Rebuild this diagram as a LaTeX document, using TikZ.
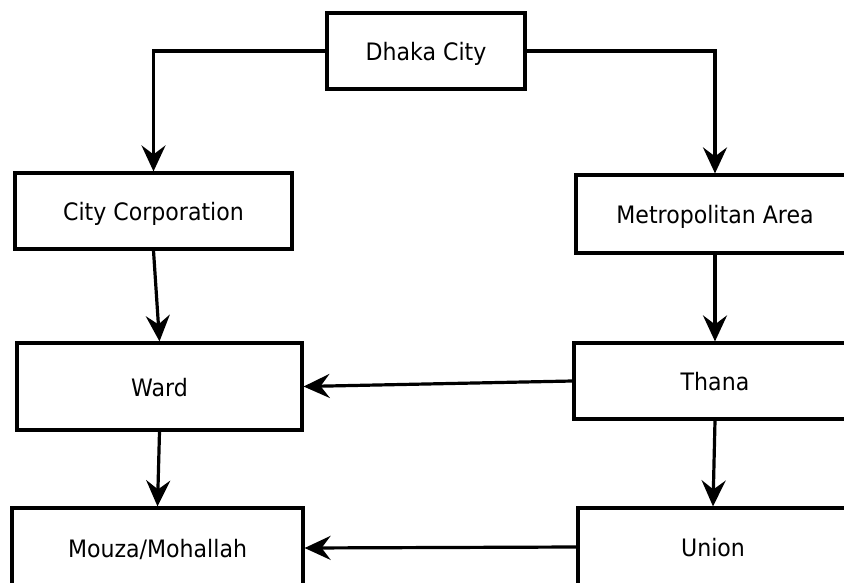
\documentclass[tikz,border=0pt]{standalone}
\usepackage{fontspec}
\setmainfont[FakeStretch=0.92]{DejaVu Sans}
\usetikzlibrary{arrows.meta}
\begin{document}
\begin{tikzpicture}[x=1pt,y=-1pt,
  box/.style={draw=black, line width=3.2pt, fill=white, inner sep=0pt,
    text height=19pt, text depth=0pt,
    font=\fontsize{24}{28}\selectfont, text=black},
  conn/.style={line width=3.2pt, -{Stealth[length=26pt,width=24pt,inset=9pt]}}]
\useasboundingbox (0,0) rectangle (844,582);
\clip (0,0) rectangle (844,582);
\node[box, minimum width=198pt, minimum height=76pt] (dhaka) at (426,51) {Dhaka City};
\node[box, minimum width=277pt, minimum height=76pt] (citycorp) at (153.5,211) {City Corporation};
\node[box, minimum width=278pt, minimum height=78pt] (metro) at (715,214) {Metropolitan Area};
\node[box, minimum width=285pt, minimum height=87pt] (ward) at (159.5,386.5) {Ward};
\node[box, minimum width=282pt, minimum height=76pt] (thana) at (715,381) {Thana};
\node[box, minimum width=291pt, minimum height=80pt] (mouza) at (157.5,548) {Mouza/Mohallah};
\node[box, minimum width=270pt, minimum height=78pt] (union) at (713,547) {Union};
\draw[conn] (dhaka.west) -| (citycorp.north);
\draw[conn] (dhaka.east) -| (metro.north);
\draw[conn] (citycorp.south) -- (ward.north);
\draw[conn] (metro.south) -- (thana.north);
\draw[conn] (thana.west) -- (ward.east);
\draw[conn] (ward.south) -- (mouza.north);
\draw[conn] (thana.south) -- (union.north);
\draw[conn] (union.west) -- (mouza.east);
\end{tikzpicture}
\end{document}
